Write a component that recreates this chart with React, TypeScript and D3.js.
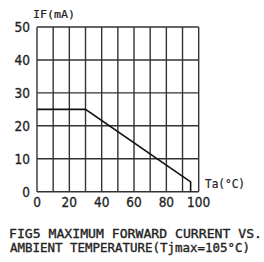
import React from "react";
import * as d3 from "d3";

const xTicks = [0, 10, 20, 30, 40, 50, 60, 70, 80, 90, 100];
const xLabels = [0, 20, 40, 60, 80, 100];
const yTicks = [0, 10, 20, 30, 40, 50];
const tempPoints = [0, 30, 95, 95];
const currentPoints = [25, 25, 3, 0];
const yAxisTitle = "IF(mA)";
const xAxisTitle = "Ta(°C)";
const captionLines = ["FIG5 MAXIMUM FORWARD CURRENT VS.", "AMBIENT TEMPERATURE(Tjmax=105°C)"];

export default function App() {
  const x = d3.scaleLinear().domain([0, 100]).range([37, 198.7]);
  const y = d3.scaleLinear().domain([0, 50]).range([191.7, 27]);
  const line = d3
    .line<number>()
    .x((d) => x(d))
    .y((_, i) => y(currentPoints[i]));
  const grid = "#333";
  const tickFont = "'DejaVu Sans Condensed', 'DejaVu Sans', sans-serif";
  const mono = "'DejaVu Sans Mono', monospace";
  return (
    <svg
      width={264}
      height={262}
      style={{ position: "absolute", left: 0, top: 0, background: "#fff" }}
    >
      <rect width={264} height={262} fill="#fff" />
      {xTicks.map((t) => (
        <line key={"vx" + t} x1={x(t)} x2={x(t)} y1={y(0)} y2={y(50)} stroke={grid} strokeWidth={1.4} />
      ))}
      {yTicks.map((t) => (
        <line key={"hy" + t} x1={x(0)} x2={x(100)} y1={y(t)} y2={y(t)} stroke={grid} strokeWidth={1.4} />
      ))}
      <path d={line(tempPoints) || ""} fill="none" stroke="#111" strokeWidth={1.6} />
      {yTicks.map((t) => (
        <text key={"yl" + t} x={30} y={y(t)} dy="0.36em" textAnchor="end" fontFamily={tickFont} fontSize={13.5} fill="#222" stroke="#222" strokeWidth={0.3}>
          {t}
        </text>
      ))}
      {xLabels.map((t) => (
        <text key={"xl" + t} x={x(t)} y={202} dy="0.36em" textAnchor="middle" fontFamily={tickFont} fontSize={13.5} fill="#222" stroke="#222" strokeWidth={0.3}>
          {t}
        </text>
      ))}
      <text x={33} y={14} dy="0.36em" fontFamily={mono} fontSize={10.5} fill="#222" stroke="#222" strokeWidth={0.2} textLength={42} lengthAdjust="spacingAndGlyphs">
        {yAxisTitle}
      </text>
      <text x={205} y={184} dy="0.36em" fontFamily={mono} fontSize={11.5} fill="#222" stroke="#222" strokeWidth={0.2} textLength={40} lengthAdjust="spacingAndGlyphs">
        {xAxisTitle}
      </text>
      <text x={9} y={233} dy="0.36em" fontFamily={mono} fontSize={13} fill="#222" stroke="#222" strokeWidth={0.35} textLength={253} lengthAdjust="spacingAndGlyphs">
        {captionLines[0]}
      </text>
      <text x={10} y={247} dy="0.36em" fontFamily={mono} fontSize={13} fill="#222" stroke="#222" strokeWidth={0.35} textLength={240} lengthAdjust="spacingAndGlyphs">
        {captionLines[1]}
      </text>
    </svg>
  );
}
